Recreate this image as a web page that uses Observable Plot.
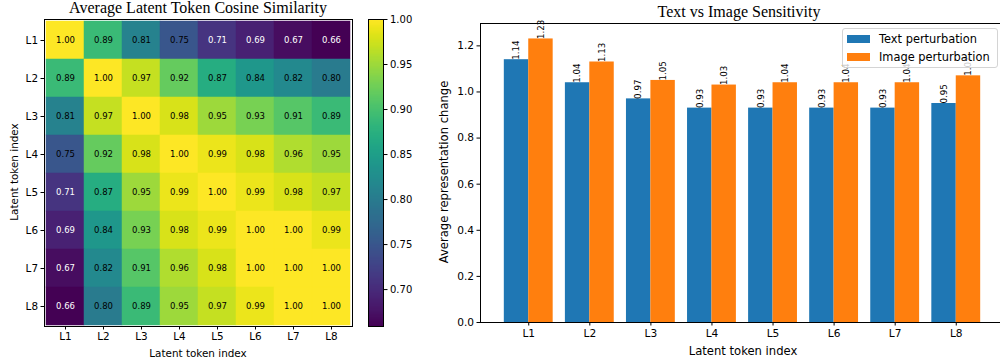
<!DOCTYPE html>
<html><head><meta charset="utf-8">
<script src="https://cdn.jsdelivr.net/npm/d3@7"></script>
<script src="https://cdn.jsdelivr.net/npm/@observablehq/plot@0.6"></script>
<style>
body{margin:0;background:#fff;}
#root{position:relative;width:1000px;height:364px;overflow:hidden;font-family:"DejaVu Sans",sans-serif;color:#000;}
#root svg{position:absolute;overflow:visible;}
.lbl{position:absolute;white-space:nowrap;line-height:14px;transform:translate(-50%,-50%);}
.rot{transform:translate(-50%,-50%) rotate(-90deg);}
.title{position:absolute;white-space:nowrap;font-family:"Liberation Serif","Times New Roman",serif;font-size:16px;line-height:16px;transform:translateX(-50%);}
#legend{position:absolute;left:842px;top:28px;width:156px;height:40px;background:rgba(255,255,255,0.8);border:1px solid #d4d4d4;border-radius:3px;box-sizing:border-box;font-size:11.4px;}
#legend .row{position:absolute;left:4px;height:14px;line-height:14px;white-space:nowrap;}
#legend .sw{display:inline-block;width:23px;height:8px;vertical-align:middle;margin-right:9px;position:relative;top:-1px;}
</style></head><body><div id="root"></div>
<script>
// ---------- data ----------
const tokens = ["L1","L2","L3","L4","L5","L6","L7","L8"];
const simL1 = [1.00,0.89,0.81,0.75,0.71,0.69,0.67,0.66];
const simL2 = [0.89,1.00,0.97,0.92,0.87,0.84,0.82,0.80];
const simL3 = [0.81,0.97,1.00,0.98,0.95,0.93,0.91,0.89];
const simL4 = [0.75,0.92,0.98,1.00,0.99,0.98,0.96,0.95];
const simL5 = [0.71,0.87,0.95,0.99,1.00,0.99,0.98,0.97];
const simL6 = [0.69,0.84,0.93,0.98,0.99,1.00,1.00,0.99];
const simL7 = [0.67,0.82,0.91,0.96,0.98,1.00,1.00,1.00];
const simL8 = [0.66,0.80,0.89,0.95,0.97,0.99,1.00,1.00];
const simRows = [simL1,simL2,simL3,simL4,simL5,simL6,simL7,simL8];
const colorDomain = [0.659, 1.0];
const colorbarTicks = [0.70,0.75,0.80,0.85,0.90,0.95,1.00];

const textPerturbation  = [1.14,1.04,0.97,0.93,0.93,0.93,0.93,0.95];
const imagePerturbation = [1.23,1.13,1.05,1.03,1.04,1.04,1.04,1.07];
const seriesNames  = ["Text perturbation","Image perturbation"];
const seriesColors = ["#1f77b4","#ff7f0e"];
const barYTicks = [0,0.2,0.4,0.6,0.8,1.0,1.2];
const barYMax = 1.297;

const root = document.getElementById("root");
const baseStyle = {fontFamily:"DejaVu Sans", fontSize:"10px", color:"#000", background:"transparent", overflow:"visible"};

// ---------- heatmap ----------
const cells = [];
simRows.forEach((row,i)=>row.forEach((v,j)=>cells.push({row:tokens[i], col:tokens[j], v})));
const heat = Plot.plot({
  width:360, height:364,
  marginLeft:44, marginRight:8, marginTop:19, marginBottom:38,
  style:baseStyle,
  x:{domain:tokens, padding:0, label:null},
  y:{domain:tokens, padding:0, label:null},
  color:{type:"linear", scheme:"viridis", domain:colorDomain},
  marks:[
    Plot.cell(cells,{x:"col", y:"row", fill:"v", stroke:"v", strokeWidth:0.5, inset:0}),
    Plot.text(cells.filter(d=>d.v<0.73),{x:"col", y:"row", text:d=>d.v.toFixed(2), fill:"white", fontSize:8.5}),
    Plot.text(cells.filter(d=>d.v>=0.73),{x:"col", y:"row", text:d=>d.v.toFixed(2), fill:"black", fontSize:8.5}),
    Plot.frame({stroke:"#000", strokeWidth:1}),
    Plot.axisX({tickSize:3.5, tickPadding:3, fontSize:10.4, label:null}),
    Plot.axisY({tickSize:3.5, tickPadding:3, fontSize:10.4, label:null})
  ]
});
heat.style.left="0px"; heat.style.top="0px";
root.appendChild(heat);

// ---------- colorbar ----------
const cbar = Plot.plot({
  width:50, height:364,
  marginLeft:0, marginRight:35, marginTop:19, marginBottom:38,
  style:baseStyle,
  x:{domain:[0,1], axis:null},
  y:{domain:colorDomain, label:null},
  color:{type:"linear", scheme:"viridis", domain:colorDomain},
  marks:[
    Plot.raster({x1:0, x2:1, y1:colorDomain[0], y2:colorDomain[1], width:4, height:300, fill:(x,y)=>y, imageRendering:"auto"}),
    Plot.frame({stroke:"#000", strokeWidth:1}),
    Plot.axisY({anchor:"right", ticks:colorbarTicks, tickFormat:d=>d.toFixed(2), tickSize:3.5, tickPadding:3, fontSize:10, label:null})
  ]
});
cbar.style.left="368px"; cbar.style.top="0px";
root.appendChild(cbar);

// ---------- bar chart ----------
const bars = [];
tokens.forEach((t,i)=>{
  bars.push({i, s:0, v:textPerturbation[i]});
  bars.push({i, s:1, v:imagePerturbation[i]});
});
const bw = 0.4;
const xMin = -0.79, xMax = 7.79;
const bar = Plot.plot({
  width:584, height:364,
  marginLeft:60, marginRight:0, marginTop:23, marginBottom:42,
  style:baseStyle,
  x:{type:"linear", domain:[xMin, xMax], label:null},
  y:{domain:[0, barYMax], label:null},
  marks:[
    Plot.rectY(bars,{x1:d=>d.i - bw + bw*d.s, x2:d=>d.i + bw*d.s, y1:0, y2:"v", fill:d=>seriesColors[d.s]}),
    Plot.text(bars,{x:d=>d.i - bw/2 + bw*d.s, y:"v", text:d=>d.v.toFixed(2), rotate:-90, textAnchor:"start", fontSize:8.7, fill:"#000"}),
    Plot.ruleY([0],{stroke:"#000", strokeWidth:1}),
    Plot.ruleY([barYMax],{stroke:"#000", strokeWidth:1}),
    Plot.ruleX([xMin],{stroke:"#000", strokeWidth:1}),
    Plot.axisX({ticks:d3.range(tokens.length), tickFormat:i=>tokens[i], tickSize:3.5, tickPadding:3, fontSize:10.6, label:null}),
    Plot.axisY({ticks:barYTicks, tickFormat:d=>d.toFixed(1), tickSize:3.5, tickPadding:3, fontSize:10.6, label:null})
  ]
});
bar.style.left="420px"; bar.style.top="0px";
root.appendChild(bar);

// ---------- text ----------
function addDiv(cls, text, css){
  const d=document.createElement("div"); d.className=cls; d.textContent=text;
  Object.assign(d.style, css); root.appendChild(d); return d;
}
addDiv("title","Average Latent Token Cosine Similarity",{left:"198px",top:"0px"});
addDiv("title","Text vs Image Sensitivity",{left:"739px",top:"4px"});
addDiv("lbl","Latent token index",{left:"198px",top:"353px",fontSize:"10.4px"});
addDiv("lbl rot","Latent token index",{left:"14px",top:"172px",fontSize:"10.4px"});
addDiv("lbl","Latent token index",{left:"743px",top:"351px",fontSize:"11.6px"});
addDiv("lbl rot","Average representation change",{left:"444px",top:"172px",fontSize:"11.6px"});

// ---------- legend ----------
const lg=document.createElement("div"); lg.id="legend";
seriesNames.forEach((n,k)=>{
  const r=document.createElement("div"); r.className="row"; r.style.top=(3+k*18)+"px";
  const sw=document.createElement("span"); sw.className="sw"; sw.style.background=seriesColors[k];
  r.appendChild(sw); r.appendChild(document.createTextNode(n)); lg.appendChild(r);
});
root.appendChild(lg);
</script>
</body></html>
